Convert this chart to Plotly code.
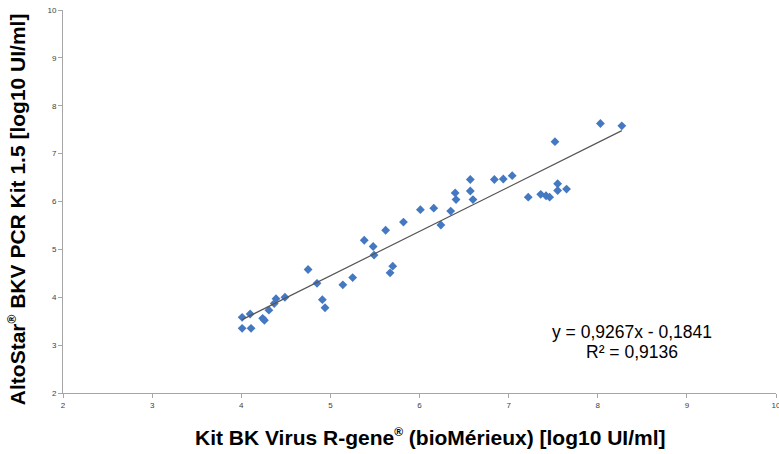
import plotly.graph_objects as go

# Data
x_rgene = [4.01, 4.01, 4.10, 4.11, 4.24, 4.26, 4.31, 4.37, 4.39, 4.49,
           4.75, 4.85, 4.91, 4.94, 5.14, 5.25, 5.38, 5.48, 5.49, 5.67,
           5.70, 5.62, 5.82, 6.01, 6.16, 6.24, 6.35, 6.40, 6.41, 6.57,
           6.57, 6.60, 6.84, 6.94, 7.04, 7.22, 7.36, 7.42, 7.46, 7.52,
           7.55, 7.55, 7.65, 8.03, 8.27]
y_altostar = [3.58, 3.35, 3.65, 3.35, 3.56, 3.52, 3.73, 3.87, 3.97, 4.00,
              4.58, 4.29, 3.95, 3.78, 4.26, 4.41, 5.19, 5.06, 4.88, 4.51,
              4.65, 5.40, 5.57, 5.83, 5.86, 5.51, 5.80, 6.18, 6.04, 6.46,
              6.22, 6.04, 6.46, 6.47, 6.54, 6.09, 6.15, 6.12, 6.09, 7.25,
              6.37, 6.23, 6.26, 7.63, 7.58]
slope = 0.9267
intercept = -0.1841
r_squared_text = "R² = 0,9136"
equation_text = "y = 0,9267x - 0,1841"
REG = "<sup><span style='font-size:12px'>®</span></sup>"
x_title = "<b>Kit BK Virus R-gene" + REG + " (bioMérieux) [log10 UI/ml]</b>"
y_title = "<b>AltoStar" + REG + " BKV PCR Kit 1.5 [log10 UI/ml]</b>"
x_ticks = [2, 3, 4, 5, 6, 7, 8, 9, 10]
y_ticks = [2, 3, 4, 5, 6, 7, 8, 9, 10]

x_line = [min(x_rgene), max(x_rgene)]
y_line = [slope * v + intercept for v in x_line]

FONT = "Liberation Sans, Arial"

fig = go.Figure()
fig.add_trace(go.Scatter(
    x=x_rgene, y=y_altostar, mode="markers",
    marker=dict(symbol="diamond", size=6.8, color="#4479C2"),
    showlegend=False, hoverinfo="x+y"))
fig.add_trace(go.Scatter(
    x=x_line, y=y_line, mode="lines",
    line=dict(color="#555555", width=1.2),
    showlegend=False, hoverinfo="skip"))

fig.add_annotation(x=8.38, y=3.27, xref="x", yref="y", text=equation_text,
                   showarrow=False, font=dict(family=FONT, size=17.5, color="#000000"))
fig.add_annotation(x=8.38, y=2.86, xref="x", yref="y", text=r_squared_text,
                   showarrow=False, font=dict(family=FONT, size=17.5, color="#000000"))

# Axis titles
fig.add_annotation(x=0.515, y=0, xref="paper", yref="paper", yanchor="middle",
                   yshift=-44, text=x_title, showarrow=False,
                   font=dict(family=FONT, size=21, color="#000000"))
fig.add_annotation(x=0, y=0.48, xref="paper", yref="paper", xanchor="center",
                   xshift=-46, text=y_title, textangle=-90, showarrow=False,
                   font=dict(family=FONT, size=21, color="#000000"))

axis_common = dict(
    showgrid=False, zeroline=False, showline=True, linecolor="#A6A6A6", linewidth=1,
    ticks="outside", ticklen=4, tickcolor="#A6A6A6", automargin=False,
    ticklabeloverflow="allow",
    tickfont=dict(family=FONT, size=8, color="#404040"),
)

fig.update_layout(
    width=779, height=454,
    margin=dict(l=63, r=3, t=10, b=61),
    paper_bgcolor="white", plot_bgcolor="white",
    xaxis=dict(range=[2, 10], tickvals=x_ticks, **axis_common),
    yaxis=dict(range=[2, 10], tickvals=y_ticks, **axis_common),
    font=dict(family=FONT),
)

fig.write_html(
    "out.html",
    config={"displayModeBar": False},
    post_script="document.body.style.margin='0';document.body.style.overflow='hidden';",
)
